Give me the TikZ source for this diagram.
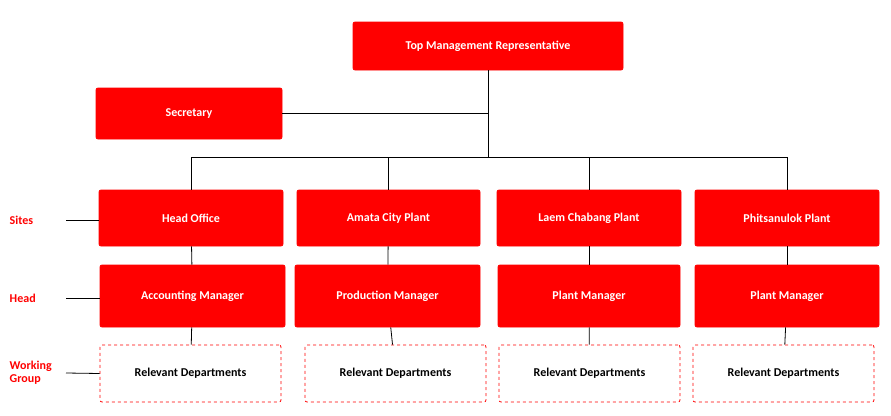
\documentclass[tikz,border=0pt]{standalone}
\usepackage{fontspec}
\setmainfont{Carlito}
\usetikzlibrary{positioning}
\definecolor{boxred}{RGB}{255,0,0}
\tikzset{
    org/.style={x=1pt,y=-1pt,line width=0.8pt},
    unit/.style={rectangle,rounded corners=2pt,fill=boxred,draw=boxred,text=white,
                 font=\bfseries\fontsize{12}{14}\selectfont,inner sep=0pt},
    group/.style={rectangle,rounded corners=2pt,fill=white,draw=boxred,dashed,
                 font=\bfseries\fontsize{12}{14}\selectfont,inner sep=0pt},
    side/.style={text=boxred,font=\bfseries\fontsize{12}{14}\selectfont,align=left,anchor=west},
    }
\begin{document}
\begin{tikzpicture}[org]
    \useasboundingbox (0,0) rectangle (891,415);
    \node[unit,minimum width=270pt,minimum height=48pt] (top) at (488,46) {Top Management Representative};
    \node[unit,minimum width=186pt,minimum height=51pt] (sec) at (189,113.5) {Secretary};

    \node[unit,minimum width=184pt,minimum height=56pt] (s1) at (191,218) {Head Office};
    \node[unit,minimum width=183pt,minimum height=56pt] (s2) at (388.5,218) {Amata City Plant};
    \node[unit,minimum width=184pt,minimum height=56pt] (s3) at (589,218) {Laem Chabang Plant};
    \node[unit,minimum width=184pt,minimum height=56pt] (s4) at (787,218) {Phitsanulok Plant};

    \node[unit,minimum width=185pt,minimum height=62pt] (h1) at (192.5,296) {Accounting Manager};
    \node[unit,minimum width=185pt,minimum height=62pt] (h2) at (387.5,296) {Production Manager};
    \node[unit,minimum width=182pt,minimum height=62pt] (h3) at (589,296) {Plant Manager};
    \node[unit,minimum width=184pt,minimum height=62pt] (h4) at (787,296) {Plant Manager};

    \node[group,minimum width=181pt,minimum height=57pt] (g1) at (190.5,373.5) {Relevant Departments};
    \node[group,minimum width=181pt,minimum height=57pt] (g2) at (395.5,373.5) {Relevant Departments};
    \node[group,minimum width=181pt,minimum height=57pt] (g3) at (589.5,373.5) {Relevant Departments};
    \node[group,minimum width=181pt,minimum height=57pt] (g4) at (783.5,373.5) {Relevant Departments};

    \node[side] (sites) at (6,220) {Sites};
    \node[side] (head) at (6,298) {Head};
    \node[side,font=\bfseries\fontsize{12}{13}\selectfont] (work) at (6,373) {Working\\Group};

    \coordinate (bus) at (488,157);
    \draw (top) -- (bus);
    \draw (sec.east) -- (sec.east -| bus);
    \draw (s1.north |- bus) -- (s4.north |- bus);
    \foreach \i in {1,...,4} {
        \draw (s\i.north |- bus) -- (s\i.north);
        \draw (s\i) -- (h\i);
        \draw (h\i) -- (g\i);
    }
    \draw (66,220) -- (s1.west |- 0,220);
    \draw (66,298) -- (h1.west |- 0,298);
    \draw (66,373) -- (g1.west);
\end{tikzpicture}
\end{document}
